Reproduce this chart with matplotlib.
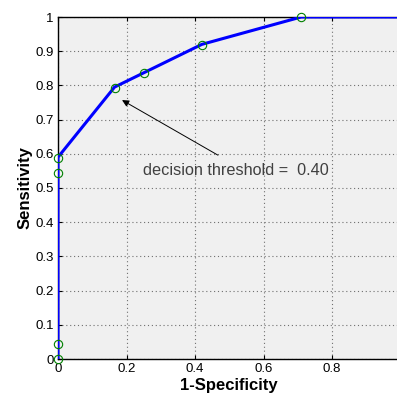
import numpy as np
import matplotlib
matplotlib.use("Agg")
import matplotlib.pyplot as plt

plt.rcParams['font.family'] = ['Liberation Sans', 'DejaVu Sans']

# ROC curve vertices
roc_fpr = [0, 0, 0.165, 0.42, 0.71, 1.0]
roc_tpr = [0, 0.59, 0.795, 0.92, 1.0, 1.0]

# threshold points (open circles)
pt_fpr = [0, 0, 0, 0, 0.165, 0.25, 0.42, 0.71]
pt_tpr = [0, 0.044, 0.544, 0.587, 0.792, 0.836, 0.918, 1.0]

xticks = [0, 0.2, 0.4, 0.6, 0.8]
xlabels = ["0", "0.2", "0.4", "0.6", "0.8"]
yticks = [0, 0.1, 0.2, 0.3, 0.4, 0.5, 0.6, 0.7, 0.8, 0.9, 1.0]
ylabels = ["0", "0.1", "0.2", "0.3", "0.4", "0.5", "0.6", "0.7", "0.8", "0.9", "1"]

fig = plt.figure(figsize=(3.97, 4.01), dpi=100)
ax = fig.add_axes([58/397, 42/401, 342.5/397, 342/401])
ax.set_facecolor("#f0f0f0")

ax.plot(roc_fpr, roc_tpr, color="#0000ff", lw=2.2, zorder=3)
ax.plot(pt_fpr, pt_tpr, ls="none", marker="o", ms=6, mfc="none",
        mec="#008000", mew=0.8, zorder=4, clip_on=False)

# arrow and label for the chosen threshold
ax.annotate("", xy=(0.187, 0.757), xytext=(0.467, 0.596),
            arrowprops=dict(arrowstyle="-|>", color="black", lw=0.7,
                            mutation_scale=10, shrinkA=0, shrinkB=0))
ax.text(0.52, 0.551, "decision threshold =  0.40", fontsize=11.7, color="#404040",
        ha="center", va="center")

ax.set_xlim(0, 1)
ax.set_ylim(0, 1)
ax.set_xticks(xticks)
ax.set_xticklabels(xlabels)
ax.set_yticks(yticks)
ax.set_yticklabels(ylabels)
ax.tick_params(direction="in", top=True, right=True, length=3, labelsize=9.5, pad=3)
ax.grid(True, color="#707070", lw=0.8, dashes=(1, 2.5))
ax.set_axisbelow(True)
for s in ax.spines.values():
    s.set_linewidth(1.0)

ax.set_xlabel("1-Specificity", fontsize=12, fontweight="bold", labelpad=2)
ax.set_ylabel("Sensitivity", fontsize=12, fontweight="bold", labelpad=2)

fig.savefig("out.png", dpi=100)
